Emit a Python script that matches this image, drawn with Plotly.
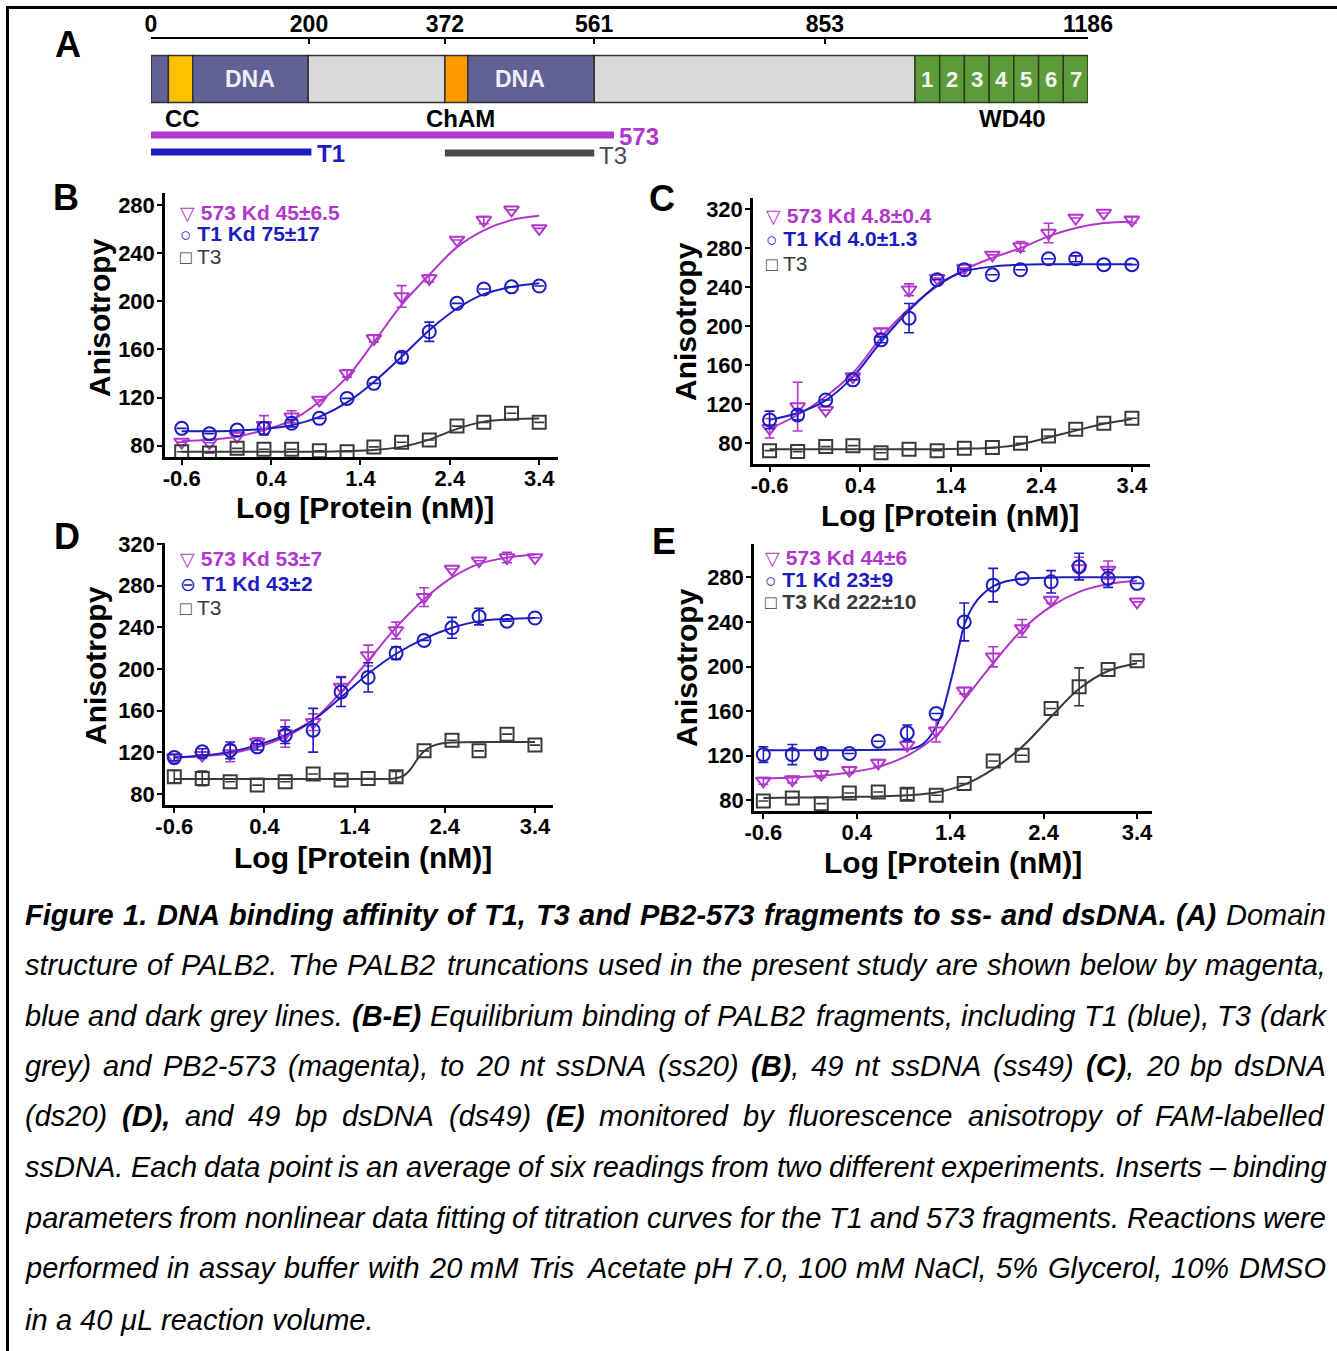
import plotly.graph_objects as go

W, H = 1337, 1351

# ---------------- data ----------------
log_conc = [-0.6, -0.29, 0.02, 0.32, 0.63, 0.94, 1.25, 1.55, 1.86, 2.17, 2.48, 2.78, 3.09, 3.4]

# Panel B (ss20)
B_573 = [83, 82.5, 88, 97, 104, 118, 140, 169, 204, 219, 251, 267.5, 276, 260.6]
B_573_err = [0, 0, 0, 8, 5, 0, 3, 3, 9, 3, 0, 3, 0, 0]
B_T1 = [94.4, 90, 93, 94.4, 98.6, 102.7, 119.3, 131.8, 153.4, 174.7, 198.3, 210.2, 212, 212.7]
B_T1_err = [0, 0, 0, 5, 3, 0, 0, 0, 4, 8, 0, 0, 0, 0]
B_T3 = [75, 74, 77.8, 77, 77, 75.8, 75, 79, 82.8, 84.7, 96.3, 99.4, 106.9, 99.4]
B_T3_err = [0] * 14
B_573_fit = [84, 85, 87.5, 93, 101, 116.5, 137, 166, 197, 222, 245, 259, 267.5, 271]
B_T1_fit = [92, 92, 92.5, 94, 97, 104, 116, 133, 154, 176, 194, 206, 212, 215]
B_T3_fit = [75, 75, 75, 75, 75, 75, 75.5, 76.5, 79, 85, 94, 100, 102, 102.5]

# Panel C (ss49)
C_573 = [95.4, 117.6, 114, 148.4, 194.5, 237.3, 249.2, 259.5, 273, 281.7, 295.4, 310.8, 316, 309]
C_573_err = [10, 25, 0, 0, 3, 6, 0, 0, 0, 5, 10, 0, 0, 3]
C_T1 = [104, 109, 124.4, 145, 186, 208.2, 247.5, 257.8, 252.6, 257.8, 269, 269, 263, 263]
C_T1_err = [9, 5, 0, 0, 3, 15, 0, 0, 0, 0, 0, 3, 0, 0]
C_T3 = [72.5, 71.5, 76.6, 77.6, 70.4, 73.8, 72.5, 74.9, 75.6, 80, 87.5, 94.4, 100.5, 105.6]
C_T3_err = [0] * 14
C_573_fit = [95, 109, 128, 152, 188, 218, 241, 258, 270, 280, 292, 300.5, 305.6, 307]
C_T1_fit = [104, 111, 124, 148, 184, 216, 242, 256, 261, 263, 263.5, 263.5, 263.5, 263.5]
C_T3_fit = [74, 74, 74, 74, 74, 74, 74, 74.5, 75.5, 79, 86, 93, 100, 105]

# Panel D (ds20)
D_573 = [115, 117.3, 119, 130, 138, 149, 182.8, 213, 237, 269, 296, 304, 307, 307]
D_573_err = [3, 3, 8, 4, 13, 8, 10, 10, 8, 9, 0, 0, 5, 0]
D_T1 = [115, 120.5, 122, 125.3, 136.5, 141.3, 178, 192, 215.3, 227.5, 239.6, 250.4, 246, 249]
D_T1_err = [3, 3, 8, 3, 8, 21, 14, 14, 6, 0, 10, 8, 0, 0]
D_T3 = [96.6, 95, 91.8, 88.6, 91.8, 99.2, 93.4, 95, 96.6, 121.5, 131.7, 121.5, 137.5, 127]
D_T3_err = [6, 7, 0, 0, 0, 0, 0, 0, 5, 0, 0, 0, 0, 0]
D_573_fit = [115, 116.4, 119, 125, 135, 151, 178, 208, 240, 267, 288, 301, 307, 310]
D_T1_fit = [115, 117, 120.5, 127, 136.5, 151, 173, 195.5, 214.7, 229, 239.6, 246, 248, 249]
D_T3_fit_x = [-0.6, 0.0, 0.6, 1.2, 1.6, 1.84, 1.95, 2.03, 2.1, 2.17, 2.26, 2.36, 2.48, 2.9, 3.4]
D_T3_fit = [94.5, 94.5, 94.5, 94.5, 94.5, 95, 98, 105, 114, 121, 126, 128.5, 129.5, 130, 130]

# Panel E (ds49)
E_573 = [97.4, 98.6, 103.4, 107, 113.5, 129.4, 142.3, 178.2, 208.7, 234.2, 259.6, 288, 286.6, 258]
E_573_err = [3, 3, 3, 3, 3, 3, 10, 3, 9, 8, 3, 10, 8, 0]
E_T1 = [121, 121, 122, 122, 133, 140.5, 157.8, 240, 273, 279, 276, 289.6, 279, 274.6]
E_T1_err = [7, 9, 5, 0, 0, 7, 0, 17, 15, 0, 10, 12, 8, 0]
E_T3 = [79.4, 82, 77, 86.6, 87.5, 85.4, 84.5, 95, 115.3, 120.4, 162.3, 181.8, 197.4, 205.1]
E_T3_err = [0, 0, 0, 0, 0, 5, 0, 0, 0, 0, 0, 17, 0, 0]
E_573_fit = [99.5, 100.5, 102, 105, 110, 120, 138, 170, 203, 233, 254, 267, 274, 277]
E_T1_fit_x = [-0.6, 0.3, 0.8, 1.0, 1.1, 1.2, 1.3, 1.4, 1.5, 1.55, 1.65, 1.75, 1.86, 2.0, 2.2, 2.6, 3.4]
E_T1_fit = [125, 125, 125.5, 126.5, 130, 139, 155, 185, 220, 237, 255, 265, 272, 276.5, 279, 280, 280]
E_T3_fit = [82, 82.5, 82.5, 83, 83.5, 84.5, 87, 94, 108, 128, 155, 180, 196, 203]

# Legend texts
B_labels = ["573 Kd 45±6.5", "T1 Kd 75±17", "T3"]
C_labels = ["573 Kd 4.8±0.4", "T1 Kd 4.0±1.3", "T3"]
D_labels = ["573 Kd 53±7", "T1 Kd 43±2", "T3"]
E_labels = ["573 Kd 44±6", "T1 Kd 23±9", "T3 Kd 222±10"]

# Panel A: domain structure (residue numbers)
ruler_ticks = [0, 200, 372, 561, 853, 1186]
seg_start = [0, 22, 53, 199, 372, 401, 561]
seg_end = [22, 53, 199, 372, 401, 561, 967]
seg_kind = ["dna", "cc", "dna", "gap", "cham", "dna", "gap"]
seg_text = ["", "", "DNA", "", "", "DNA", ""]
seg_text_pos = [None, None, 125, None, None, 467, None]
wd40_start, wd40_end = 967, 1186
wd40_blades = ["1", "2", "3", "4", "5", "6", "7"]
frag_names = ["573", "T1", "T3"]
frag_start = [0, 0, 372]
frag_end = [586, 203, 561]

# Caption: lines of (text, bold) segments
caption = [
    [("Figure 1. DNA binding affinity of T1, T3 and PB2-573 fragments to ss- and dsDNA. (A)", True),
     (" Domain", False)],
    [("structure of PALB2. The PALB2 truncations used in the present study are shown below by magenta,", False)],
    [("blue and dark grey lines. ", False), ("(B-E)", True),
     (" Equilibrium binding of PALB2 fragments, including T1 (blue), T3 (dark", False)],
    [("grey) and PB2-573 (magenta), to 20 nt ssDNA (ss20) ", False), ("(B)", True),
     (", 49 nt ssDNA (ss49) ", False), ("(C)", True), (", 20 bp dsDNA", False)],
    [("(ds20) ", False), ("(D),", True), (" and 49 bp dsDNA (ds49) ", False), ("(E)", True),
     (" monitored by fluorescence anisotropy of FAM-labelled", False)],
    [("ssDNA. Each data point is an average of six readings from two different experiments. Inserts – binding", False)],
    [("parameters from nonlinear data fitting of titration curves for the T1 and 573 fragments. Reactions were", False)],
    [("performed in assay buffer with 20 mM Tris Acetate pH 7.0, 100 mM NaCl, 5% Glycerol, 10% DMSO", False)],
    [("in a 40 μL reaction volume.", False)],
]

# ---------------- style ----------------
MAG = "#B236CC"
BLU = "#1C1CC0"
GRY = "#3A3A3A"
FONT = "Liberation Sans, Arial, sans-serif"
NARROW = "Liberation Sans Narrow, Liberation Sans, Arial"
seg_color = {"dna": "#616196", "cc": "#FFC000", "gap": "#D9D9D9", "cham": "#FF9A00"}

# Arial / Liberation Sans advance widths (per 1000 em) for caption justification
_REG = {" ": 278, "!": 278, "%": 889, "(": 333, ")": 333, ",": 278, "-": 333, ".": 278,
        ":": 278, "–": 556, "μ": 576,
        "A": 667, "B": 667, "C": 722, "D": 722, "E": 667, "F": 611, "G": 778, "H": 722,
        "I": 278, "J": 500, "K": 667, "L": 556, "M": 833, "N": 722, "O": 778, "P": 667,
        "Q": 778, "R": 722, "S": 667, "T": 611, "U": 722, "V": 667, "W": 944, "X": 667,
        "Y": 667, "Z": 611,
        "a": 556, "b": 556, "c": 500, "d": 556, "e": 556, "f": 278, "g": 556, "h": 556,
        "i": 222, "j": 222, "k": 500, "l": 222, "m": 833, "n": 556, "o": 556, "p": 556,
        "q": 556, "r": 333, "s": 500, "t": 278, "u": 556, "v": 500, "w": 722, "x": 500,
        "y": 500, "z": 500}
_BOLD = {" ": 278, "!": 333, "%": 889, "(": 333, ")": 333, ",": 278, "-": 333, ".": 278,
         ":": 333, "–": 556,
         "A": 722, "B": 722, "C": 722, "D": 722, "E": 667, "F": 611, "G": 778, "H": 722,
         "I": 278, "J": 556, "K": 722, "L": 611, "M": 833, "N": 722, "O": 778, "P": 667,
         "Q": 778, "R": 722, "S": 667, "T": 611, "U": 722, "V": 667, "W": 944, "X": 667,
         "Y": 667, "Z": 611,
         "a": 556, "b": 611, "c": 556, "d": 611, "e": 556, "f": 333, "g": 611, "h": 611,
         "i": 278, "j": 278, "k": 556, "l": 278, "m": 889, "n": 611, "o": 611, "p": 611,
         "q": 611, "r": 389, "s": 556, "t": 333, "u": 611, "v": 556, "w": 778, "x": 556,
         "y": 556, "z": 500}


def text_width(s, bold, size):
    tab = _BOLD if bold else _REG
    return sum(tab.get(ch, 556) for ch in s) * size / 1000.0


def px(x):
    return x / W


def py(y):
    return 1 - y / H


fig = go.Figure()

panels = [
    dict(letter="B", frame=(165, 558, 193, 457), xr=[-0.787, 3.61], yr=[70.6, 290],
         yt=[80, 120, 160, 200, 240, 280],
         series=[(B_573_fit, None, B_573, B_573_err, MAG, "triangle-down-open"),
                 (B_T1_fit, None, B_T1, B_T1_err, BLU, "circle-open"),
                 (B_T3_fit, None, B_T3, B_T3_err, GRY, "square-open")],
         labels=B_labels, leg=(180, [212, 234, 257]), letter_pos=(66, 197),
         ytitle=(100, 318), xtitle=(365, 507)),
    dict(letter="C", frame=(753, 1150, 198, 464), xr=[-0.783, 3.6], yr=[58.8, 331.3],
         yt=[80, 120, 160, 200, 240, 280, 320],
         series=[(C_573_fit, None, C_573, C_573_err, MAG, "triangle-down-open"),
                 (C_T1_fit, None, C_T1, C_T1_err, BLU, "circle-open"),
                 (C_T3_fit, None, C_T3, C_T3_err, GRY, "square-open")],
         labels=C_labels, leg=(766, [216, 239, 263]), letter_pos=(662, 198),
         ytitle=(686, 322), xtitle=(950, 515)),
    dict(letter="D", frame=(165, 553, 543, 805), xr=[-0.703, 3.6], yr=[69.5, 321],
         yt=[80, 120, 160, 200, 240, 280, 320],
         series=[(D_573_fit, None, D_573, D_573_err, MAG, "triangle-down-open"),
                 (D_T1_fit, None, D_T1, D_T1_err, BLU, "circle-open"),
                 (D_T3_fit, D_T3_fit_x, D_T3, D_T3_err, GRY, "square-open")],
         labels=D_labels, leg=(180, [558, 583, 607]), letter_pos=(67, 537),
         ytitle=(95, 665), xtitle=(363, 857)),
    dict(letter="E", frame=(754, 1152, 544, 811), xr=[-0.7, 3.56], yr=[70.4, 309.9],
         yt=[80, 120, 160, 200, 240, 280],
         series=[(E_573_fit, None, E_573, E_573_err, MAG, "triangle-down-open"),
                 (E_T1_fit, E_T1_fit_x, E_T1, E_T1_err, BLU, "circle-open"),
                 (E_T3_fit, None, E_T3, E_T3_err, GRY, "square-open")],
         labels=E_labels, leg=(765, [557, 579, 601]), letter_pos=(664, 541),
         ytitle=(686, 668), xtitle=(953, 862)),
]

annotations = []
shapes = []
layout_axes = {}
xticks = [-0.6, 0.4, 1.4, 2.4, 3.4]
tickfont = dict(family=FONT, size=22, color="black", weight="bold")

for i, p in enumerate(panels):
    n = i + 1
    m = i + 5
    l, r, t, b = p["frame"]
    xd = [px(l), px(r)]
    yd = [py(b), py(t)]
    xa = "x" if n == 1 else f"x{n}"
    ya = "y" if n == 1 else f"y{n}"
    layout_axes[f"xaxis{n}"] = dict(
        domain=xd, range=p["xr"], anchor=ya, tickvals=xticks,
        ticktext=[f"{v:.1f}" for v in xticks], ticks="outside", ticklen=5,
        tickwidth=2, tickcolor="black", showline=True, linewidth=2.5,
        linecolor="black", showgrid=False, zeroline=False, tickfont=tickfont,
        ticklabelstandoff=-5, automargin=False)
    layout_axes[f"yaxis{n}"] = dict(
        domain=yd, range=p["yr"], anchor=xa, tickvals=p["yt"], ticks="outside",
        ticklen=5, tickwidth=2, tickcolor="black", showline=True, linewidth=2.5,
        linecolor="black", showgrid=False, zeroline=False, tickfont=tickfont,
        ticklabelstandoff=-2, automargin=False)
    layout_axes[f"xaxis{m}"] = dict(
        overlaying=xa, side="top", anchor=ya, range=p["xr"], tickvals=xticks,
        ticks="inside", ticklen=5, tickwidth=2, tickcolor="black",
        showticklabels=False, showline=True, linewidth=2.5, linecolor="black",
        showgrid=False, zeroline=False, automargin=False)
    layout_axes[f"yaxis{m}"] = dict(
        overlaying=ya, side="right", anchor=xa, range=p["yr"], tickvals=p["yt"],
        ticks="inside", ticklen=5, tickwidth=2, tickcolor="black",
        showticklabels=False, showline=True, linewidth=2.5, linecolor="black",
        showgrid=False, zeroline=False, automargin=False)

    for fit, fit_x, vals, errs, col, sym in p["series"]:
        fig.add_trace(go.Scatter(
            x=fit_x if fit_x is not None else log_conc, y=fit, mode="lines",
            line=dict(color=col, width=2, shape="spline", smoothing=1.0),
            xaxis=xa, yaxis=ya, showlegend=False, hoverinfo="skip"))
    for fit, fit_x, vals, errs, col, sym in p["series"]:
        fig.add_trace(go.Scatter(
            x=log_conc, y=vals, mode="markers",
            marker=dict(symbol=sym, size=13, color=col, line=dict(color=col, width=2)),
            error_y=dict(type="data", array=errs, visible=True, color=col,
                         thickness=1.6, width=5),
            xaxis=xa, yaxis=ya, showlegend=False))

    lx, lys = p["leg"]
    syms = ["▽", "○", "□"] if n != 3 else ["▽", "⊖", "□"]
    cols = [MAG, BLU, GRY]
    for k in range(3):
        bold = (k < 2 or n == 4)
        lab = f"<b>{p['labels'][k]}</b>" if bold else p["labels"][k]
        annotations.append(dict(
            xref="paper", yref="paper", x=px(lx - 2), y=py(lys[k]), xanchor="left",
            yanchor="middle", showarrow=False,
            text=f"<span style='font-size:19px'>{syms[k]}</span> {lab}",
            font=dict(family=FONT, size=21, color=cols[k])))
    annotations.append(dict(
        xref="paper", yref="paper", x=px(p["letter_pos"][0]), y=py(p["letter_pos"][1]),
        xanchor="center", yanchor="middle", showarrow=False, text=f"<b>{p['letter']}</b>",
        font=dict(family=FONT, size=36, color="black")))
    annotations.append(dict(
        xref="paper", yref="paper", x=px(p["ytitle"][0]), y=py(p["ytitle"][1]),
        xanchor="center", yanchor="middle", showarrow=False, textangle=-90,
        text="<b>Anisotropy</b>", font=dict(family=FONT, size=30, color="black")))
    annotations.append(dict(
        xref="paper", yref="paper", x=px(p["xtitle"][0]), y=py(p["xtitle"][1]),
        xanchor="center", yanchor="middle", showarrow=False,
        text="<b>Log [Protein (nM)]</b>", font=dict(family=FONT, size=30, color="black")))

# ---------------- Panel A ----------------
annotations.append(dict(xref="paper", yref="paper", x=px(68), y=py(44), xanchor="center",
                        yanchor="middle", showarrow=False, text="<b>A</b>",
                        font=dict(family=FONT, size=36, color="black")))
A_top_px, A_bot_px = 10, 170
layout_axes["xaxis9"] = dict(
    domain=[px(151), px(1088)], range=[0, 1186], anchor="free", position=py(38),
    side="top", tickvals=ruler_ticks, ticks="inside", ticklen=5, tickwidth=2,
    tickcolor="black", showline=True, linewidth=2, linecolor="black",
    showgrid=False, zeroline=False, ticklabelstandoff=-4, automargin=False,
    tickfont=dict(family=NARROW, size=23, color="black", weight="bold"))
layout_axes["yaxis9"] = dict(
    domain=[py(A_bot_px), py(A_top_px)], range=[A_bot_px, A_top_px], anchor="x9",
    visible=False, showgrid=False, zeroline=False, automargin=False)

bar_top, bar_bot = 55.5, 102.5
for s, e, kind, txt, tpos in zip(seg_start, seg_end, seg_kind, seg_text, seg_text_pos):
    shapes.append(dict(type="rect", xref="x9", yref="y9", x0=s, x1=e, y0=bar_top,
                       y1=bar_bot, fillcolor=seg_color[kind],
                       line=dict(color="#333333", width=1.5), layer="above"))
    if txt:
        annotations.append(dict(xref="x9", yref="y9", x=tpos, y=(bar_top + bar_bot) / 2,
                                text=f"<b>{txt}</b>", showarrow=False,
                                font=dict(family=FONT, size=23, color="#EEEEF6")))
nb = len(wd40_blades)
bw = (wd40_end - wd40_start) / nb
for k, lab in enumerate(wd40_blades):
    s = wd40_start + k * bw
    shapes.append(dict(type="rect", xref="x9", yref="y9", x0=s, x1=s + bw, y0=bar_top,
                       y1=bar_bot, fillcolor="#5E9C3A",
                       line=dict(color="#2E3E22", width=1.5), layer="above"))
    annotations.append(dict(xref="x9", yref="y9", x=s + bw / 2, y=(bar_top + bar_bot) / 2,
                            text=f"<b>{lab}</b>", showarrow=False,
                            font=dict(family=NARROW, size=22, color="#F4F4F4")))
for txt, xres in [("CC", 40), ("ChAM", 392), ("WD40", 1090)]:
    annotations.append(dict(xref="x9", yref="y9", x=xres, y=118, text=f"<b>{txt}</b>",
                            showarrow=False,
                            font=dict(family=NARROW, size=24, color="black")))
frag_y = [135, 152, 153]
frag_col = [MAG, BLU, "#4A4A4A"]
for name, s, e, yy, col in zip(frag_names, frag_start, frag_end, frag_y, frag_col):
    shapes.append(dict(type="line", xref="x9", yref="y9", x0=s, x1=e, y0=yy, y1=yy,
                       line=dict(color=col, width=7)))
    annotations.append(dict(xref="x9", yref="y9", x=e + 4, y=yy + (2 if name == "T3" else 1),
                            xanchor="left", text=f"<b>{name}</b>" if name != "T3" else name,
                            showarrow=False,
                            font=dict(family=NARROW, size=24, color=col)))

# ---------------- caption (justified word by word) ----------------
CAP_SIZE = 29
cap_left, cap_right = 24, 1325
caption_y = [915, 965, 1016, 1066, 1116, 1167, 1218, 1268, 1320]
for li, (segs, yy) in enumerate(zip(caption, caption_y)):
    words, cur = [], []
    for txt, bold in segs:
        parts = txt.split(" ")
        for j, part in enumerate(parts):
            if j > 0 and cur:
                words.append(cur)
                cur = []
            if part:
                cur.append((part, bold))
    if cur:
        words.append(cur)
    widths = [sum(text_width(t, b, CAP_SIZE) for t, b in w) for w in words]
    space = text_width(" ", False, CAP_SIZE)
    if li < len(caption) - 1 and len(words) > 1:
        gap = (cap_right - cap_left - sum(widths)) / (len(words) - 1)
        gap = max(gap, space * 0.5)
    else:
        gap = space
    xcur = cap_left
    for w, wd in zip(words, widths):
        html = "".join(f"<b>{t}</b>" if b else t for t, b in w)
        annotations.append(dict(xref="paper", yref="paper", x=px(xcur), y=py(yy),
                                xanchor="left", yanchor="middle", text=f"<i>{html}</i>",
                                showarrow=False, borderpad=0,
                                font=dict(family=FONT, size=CAP_SIZE, color="black")))
        xcur += wd + gap

# border (top and left)
shapes.append(dict(type="line", xref="paper", yref="paper", x0=px(7), x1=1, y0=py(7.5),
                   y1=py(7.5), line=dict(color="black", width=3)))
shapes.append(dict(type="line", xref="paper", yref="paper", x0=px(7.5), x1=px(7.5), y0=0,
                   y1=py(6), line=dict(color="black", width=3)))

fig.update_layout(
    width=W, height=H, margin=dict(l=0, r=0, t=0, b=0, pad=0, autoexpand=False),
    paper_bgcolor="white", plot_bgcolor="white", showlegend=False,
    annotations=annotations, shapes=shapes, **layout_axes)

fig.write_html("out.html", post_script="document.body.style.margin='0';document.body.style.overflow='hidden';")
